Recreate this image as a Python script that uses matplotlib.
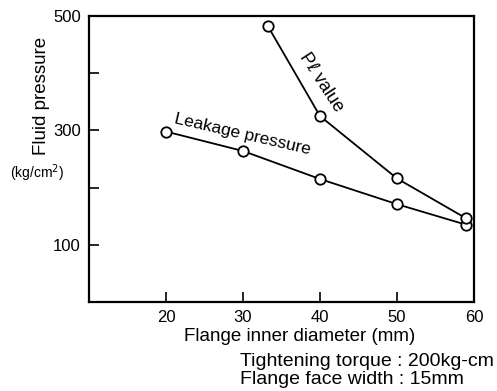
import matplotlib.pyplot as plt

# data
diam_leak = [20, 30, 40, 50, 59]
leak_pressure = [298, 264, 215, 171, 135]
diam_pl = [33.2, 40, 50, 59]
pl_value = [483, 325, 216, 146]

xticks = [20, 30, 40, 50, 60]
yticks = [100, 200, 300, 400, 500]
ytick_labels = ['100', '', '300', '', '500']

plt.rcParams['font.family'] = ['Liberation Sans', 'DejaVu Sans']

fig = plt.figure(figsize=(4.97, 3.91), dpi=100)
ax = fig.add_axes([89 / 497, 1 - 302 / 391, (474 - 89) / 497, (302 - 16) / 391])

mk = dict(marker='o', markersize=7.5, markerfacecolor='white',
          markeredgecolor='black', markeredgewidth=1.3, color='black', lw=1.3)
ax.plot(diam_leak, leak_pressure, **mk)
ax.plot(diam_pl, pl_value, **mk)

ax.set_xlim(10, 60)
ax.set_ylim(0, 500)
ax.set_xticks(xticks)
ax.set_yticks(yticks)
ax.set_yticklabels(ytick_labels)
ax.tick_params(direction='in', length=7, width=1.2, labelsize=12, pad=6)
for s in ax.spines.values():
    s.set_linewidth(1.6)

ax.set_xlabel('Flange inner diameter (mm)', fontsize=13.5)
ax.xaxis.set_label_coords(0.548, -0.092)

fig.text(41 / 497, 1 - 96 / 391, 'Fluid pressure', rotation=90, fontsize=13.5,
         ha='center', va='center')
fig.text(37 / 497, 1 - 173 / 391, '(kg/cm$^2$)', fontsize=10,
         ha='center', va='center')

ax.text(21.0, 313, 'Leakage pressure', rotation=-13, fontsize=12.5,
        ha='left', va='baseline', rotation_mode='anchor')
ax.text(40.1, 385, r'P$\ell$ value', rotation=-57, fontsize=13,
        ha='center', va='center', rotation_mode='anchor')

fig.text(240 / 497, 1 - 361 / 391, 'Tightening torque : 200kg-cm', fontsize=14,
         ha='left', va='center')
fig.text(240 / 497, 1 - 379 / 391, 'Flange face width : 15mm', fontsize=14,
         ha='left', va='center')

fig.savefig('out.png', dpi=100)
